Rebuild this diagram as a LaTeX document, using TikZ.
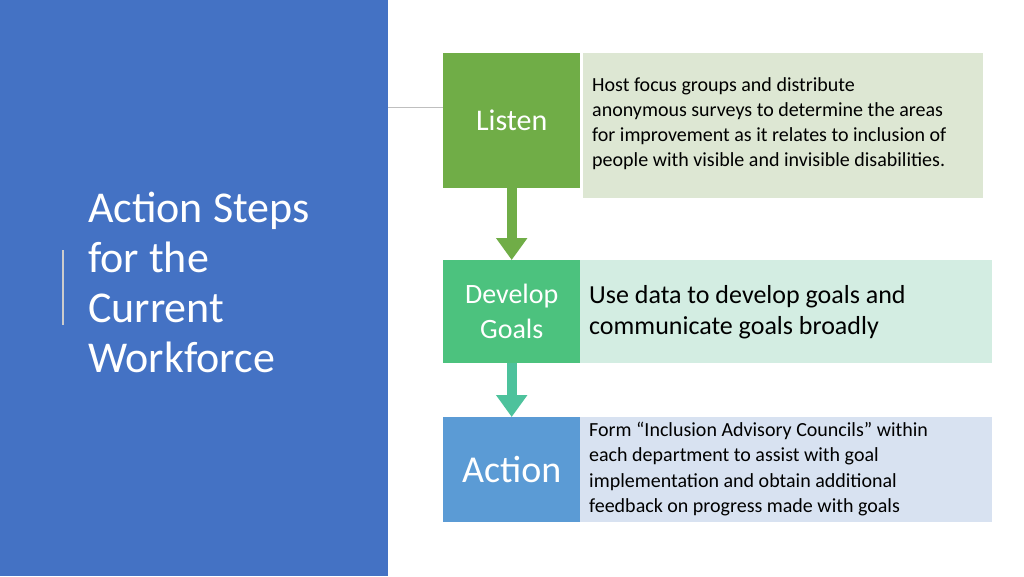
\documentclass[tikz,border=0pt]{standalone}
\usepackage{fontspec}
\setmainfont{Carlito}
\usetikzlibrary{arrows.meta}
\definecolor{panel}{HTML}{4472C4}
\definecolor{gA}{HTML}{70AD47}\definecolor{gAl}{HTML}{DDE7D3}
\definecolor{gB}{HTML}{4CC27E}\definecolor{gBl}{HTML}{D3EDE2}
\definecolor{gC}{HTML}{5B9BD5}\definecolor{gCl}{HTML}{D8E2F1}
\definecolor{arB}{HTML}{4DC29C}
\tikzset{
 head/.style={fill=#1,text=white,minimum width=137pt,inner sep=0pt,font=\fontsize{30}{32}\selectfont,align=center,anchor=north west},
 body/.style={fill=#1,text=black,inner sep=0pt,anchor=north west,text width=395pt,align=left},
 flow/.style={draw=#1,line width=10pt,-{Triangle[width=30pt,length=22pt]}}
}
\begin{document}
\begin{tikzpicture}[x=1pt,y=-1pt]
\useasboundingbox (0,0) rectangle (1024,576);
\fill[white] (0,0) rectangle (1024,576);
\fill[panel] (0,0) rectangle (388,576);
\coordinate (l1) at (388,107);
\draw[gray!50,line width=1pt] (l1) -- (443,107);
\draw[gray!40,line width=1.5pt] (63,250) coordinate (v1) -- (63,325) coordinate (v2);
\node[anchor=north west,text=white,align=left,inner sep=0pt,font=\fontsize{44}{50}\selectfont] (title) at (88,192) {Action Steps\\for the\\Current\\Workforce};
\node[head=gA,minimum height=135pt] (A) at (443,53) {Listen};
\node[body=gAl,minimum height=145pt,text width=400pt] (At) at (583,53) {};
\node[anchor=north west,inner sep=0pt,align=left,font=\fontsize{20}{25.3}\selectfont] (Atx) at (592,77) {Host focus groups and distribute\\anonymous surveys to determine the areas\\for improvement as it relates to inclusion of\\people with visible and invisible disabilities.};
\node[head=gB,minimum height=103pt,font=\fontsize{28}{35}\selectfont] (B) at (443,260) {Develop\\Goals};
\node[body=gBl,minimum height=103pt,text width=412pt] (Bt) at (580,260) {};
\node[anchor=west,inner sep=0pt,align=left,font=\fontsize{26}{31}\selectfont] (Btx) at (589,312) {Use data to develop goals and\\communicate goals broadly};
\node[head=gC,minimum height=105pt,font=\fontsize{38}{40}\selectfont] (C) at (443,417) {Action};
\node[body=gCl,minimum height=105pt,text width=412pt] (Ct) at (580,417) {};
\node[anchor=north west,inner sep=0pt,align=left,font=\fontsize{20}{25.3}\selectfont] (Ctx) at (589,422) {Form “Inclusion Advisory Councils” within\\each department to assist with goal\\implementation and obtain additional\\feedback on progress made with goals};
\draw[flow=gA] (A.south) -- (B.north);
\draw[flow=arB] (B.south) -- (C.north);
\end{tikzpicture}
\end{document}
